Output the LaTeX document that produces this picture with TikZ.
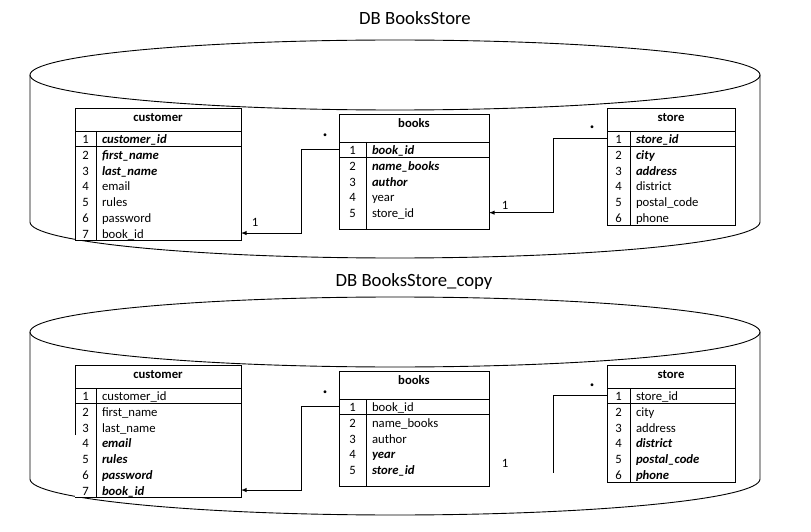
\documentclass[tikz,border=0pt]{standalone}
\usepackage{fontspec}
\setmainfont{Carlito}
\usetikzlibrary{positioning}
\newcommand{\keyfield}[1]{\textbf{\textit{#1}}}

\begin{document}
\begin{tikzpicture}[
	x = 1pt, y = -1pt,
	line width = 0.9pt,
	font = \fontsize{12.7}{15.5}\selectfont,
	dbname/.style    = {font=\fontsize{18.7}{22}\selectfont},
	tablehead/.style = {draw, fill=white, anchor=north west, outer sep=0pt,
		font=\fontsize{12.7}{15.5}\selectfont\bfseries,
		inner xsep=0pt, inner ysep=5pt, text height=8.5pt, text depth=#1},
	tablehead/.default = 4.5pt,
	rownum/.style    = {fill=white, anchor=north west, outer sep=0pt, inner sep=0pt,
		minimum height=15.7pt, text height=10.5pt, text depth=0.5pt},
	rowfield/.style  = {fill=white, outer sep=0pt, inner xsep=6pt, inner ysep=0pt,
		align=left, minimum height=15.7pt, text height=10.5pt, text depth=0.5pt},
	relation/.style  = {-latex},
	mult/.style      = {inner sep=1pt},
	dot/.style       = {inner sep=0pt, font=\fontsize{8}{8}\selectfont}
]
	\useasboundingbox (0,0) rectangle (811,532);

	\node[dbname] (title) at (415,18) {DB BooksStore};
	\draw (395,75) ellipse [x radius=365, y radius=35];
	\draw (30,75) -- (30,222) arc [start angle=180, end angle=0, x radius=365, y radius=36] -- (760,75);

	\node[tablehead, minimum width=166pt] (cust) at (75,108) {customer};
	\foreach \f [count=\i] in {\keyfield{customer\_id}, \keyfield{first\_name}, \keyfield{last\_name}, email, rules, password, book\_id} {
		\node[rownum, minimum width=21pt] (cust-n\i) at ([yshift={(1-\i)*15.7pt}]cust.south west) {\i};
		\node[rowfield, text width=133pt, right=0pt of cust-n\i] (cust-\i) {\f};
	}
	\draw (cust.north west) rectangle (cust-7.south east)
		(cust.south west) -- (cust.south east)
		(cust-n1.south west) -- (cust-1.south east)
		(cust-n1.north east) -- (cust-n7.south east);

	\node[tablehead=9.5pt, minimum width=150pt] (books) at (339,114) {books};
	\foreach \f [count=\i] in {\keyfield{book\_id}, \keyfield{name\_books}, \keyfield{author}, year, store\_id} {
		\node[rownum, minimum width=27pt] (books-n\i) at ([yshift={(1-\i)*15.7pt}]books.south west) {\i};
		\node[rowfield, text width=111pt, right=0pt of books-n\i] (books-\i) {\f};
	}
	\draw (books.north west) rectangle ([yshift=-8.5pt]books-5.south east)
		(books.south west) -- (books.south east)
		(books-n1.south west) -- (books-1.south east)
		(books-n1.north east) -- ([yshift=-8.5pt]books-n5.south east);

	\node[tablehead, minimum width=128pt] (store) at (607,108) {store};
	\foreach \f [count=\i] in {\keyfield{store\_id}, \keyfield{city}, \keyfield{address}, district, postal\_code, phone} {
		\node[rownum, minimum width=23pt] (store-n\i) at ([yshift={(1-\i)*15.7pt}]store.south west) {\i};
		\node[rowfield, text width=93pt, right=0pt of store-n\i] (store-\i) {\f};
	}
	\draw (store.north west) rectangle (store-6.south east)
		(store.south west) -- (store.south east)
		(store-n1.south west) -- (store-1.south east)
		(store-n1.north east) -- (store-n6.south east);

	\draw[relation] (books-n1.west) -- ++(-38,0) |- (cust-7.east);
	\draw[relation] (store-n1.west) -- ++(-54,0) |- (books-5.east);
	\node[mult] (mult-cust) at (255,222) {1};
	\node[mult] (mult-books) at (505,205) {1};
	\node[dot] (dot-books) at (325,136) {•};
	\node[dot] (dot-store) at (592,128) {•};

	\begin{scope}[shift={(0,257)}, name prefix=cp-]
		\node[dbname] (title) at (414,25) {DB BooksStore\_copy};
		\draw (395,75) ellipse [x radius=365, y radius=35];
		\draw (30,75) -- (30,222) arc [start angle=180, end angle=0, x radius=365, y radius=36] -- (760,75);

		\node[tablehead, minimum width=166pt] (cust) at (75,108) {customer};
		\foreach \f [count=\i] in {customer\_id, first\_name, last\_name, \keyfield{email}, \keyfield{rules}, \keyfield{password}, \keyfield{book\_id}} {
			\node[rownum, minimum width=21pt] (cust-n\i) at ([yshift={(1-\i)*15.7pt}]cust.south west) {\i};
			\node[rowfield, text width=133pt, right=0pt of cust-n\i] (cust-\i) {\f};
		}
		\draw (cust-n3.south west) -- (cust.north west) -- (cust.north east)
			-- (cust-7.south east) -- (cust-n7.south west)
			(cust.south west) -- (cust.south east)
			(cust-n1.south west) -- (cust-1.south east)
			(cust-n1.north east) -- (cust-n7.south east);

		\node[tablehead=9.5pt, minimum width=150pt] (books) at (339,114) {books};
		\foreach \f [count=\i] in {book\_id, name\_books, author, \keyfield{year}, \keyfield{store\_id}} {
			\node[rownum, minimum width=27pt] (books-n\i) at ([yshift={(1-\i)*15.7pt}]books.south west) {\i};
			\node[rowfield, text width=111pt, right=0pt of books-n\i] (books-\i) {\f};
		}
		\draw (books.north west) rectangle ([yshift=-8.5pt]books-5.south east)
			(books.south west) -- (books.south east)
			(books-n1.south west) -- (books-1.south east)
			(books-n1.north east) -- ([yshift=-8.5pt]books-n5.south east);

		\node[tablehead, minimum width=128pt] (store) at (607,108) {store};
		\foreach \f [count=\i] in {store\_id, city, address, \keyfield{district}, \keyfield{postal\_code}, \keyfield{phone}} {
			\node[rownum, minimum width=23pt] (store-n\i) at ([yshift={(1-\i)*15.7pt}]store.south west) {\i};
			\node[rowfield, text width=93pt, right=0pt of store-n\i] (store-\i) {\f};
		}
		\draw (store.north west) rectangle (store-6.south east)
			(store.south west) -- (store.south east)
			(store-n1.south west) -- (store-1.south east)
			(store-n1.north east) -- (store-n6.south east);

		\coordinate (store-end) at (553,216);
		\draw[relation] (books-n1.west) -- ++(-38,0) |- (cust-7.east);
		\draw (store-n1.west) -| (store-end);
		\node[mult] (mult-books) at (505,206) {1};
		\node[dot] (dot-books) at (325,136) {•};
		\node[dot] (dot-store) at (592,129) {•};
	\end{scope}
\end{tikzpicture}
\end{document}
